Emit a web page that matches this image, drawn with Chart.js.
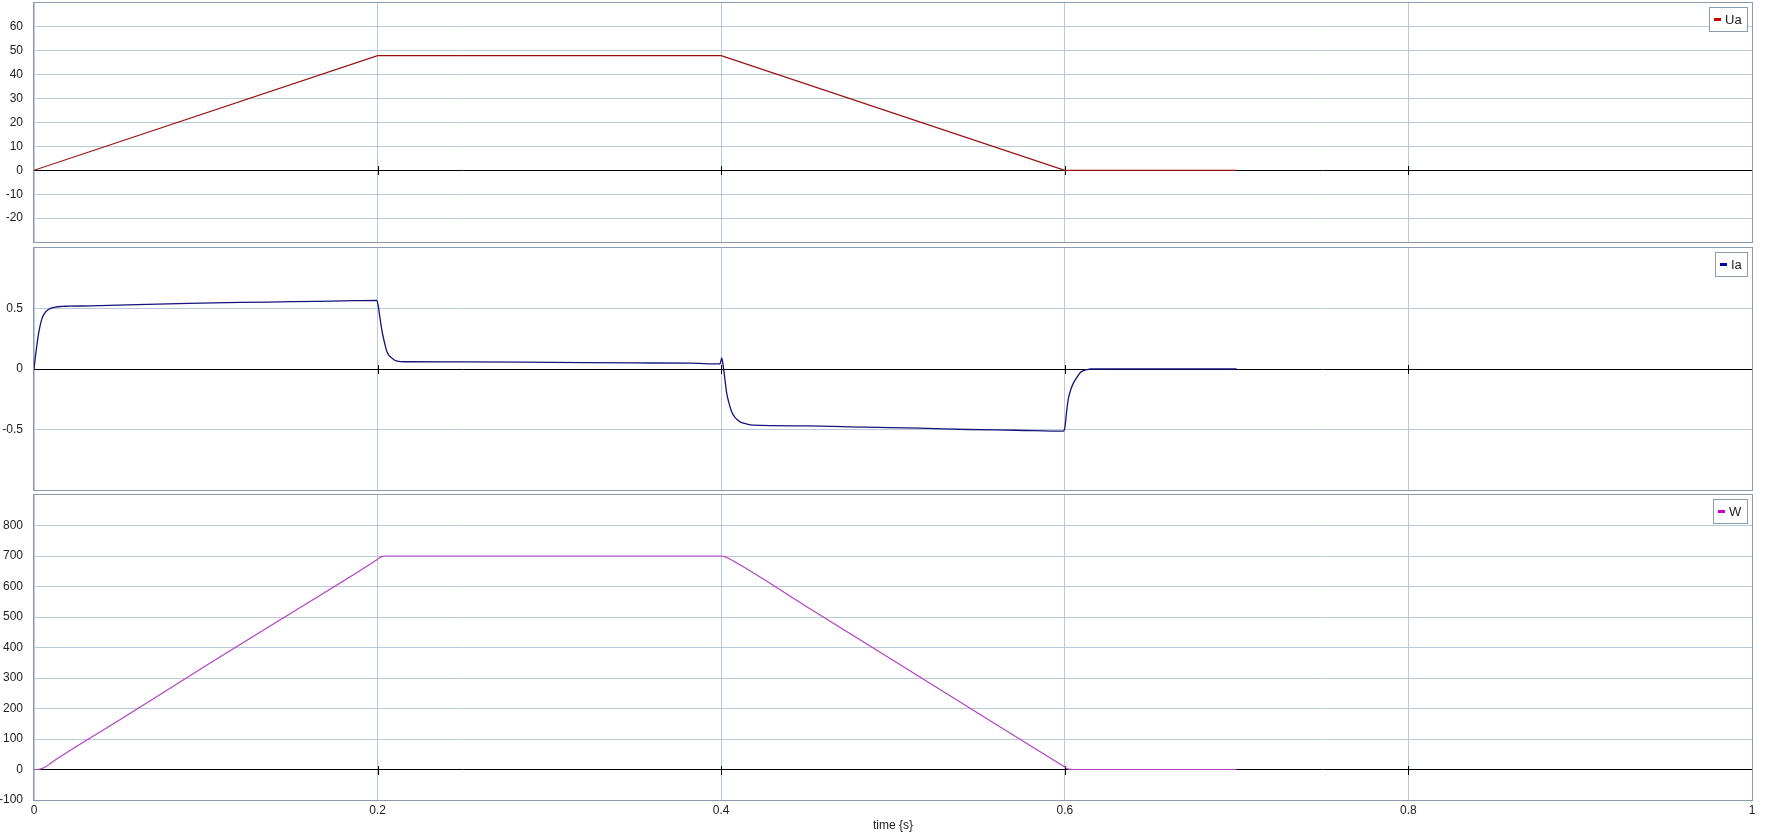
<!DOCTYPE html>
<html>
<head>
<meta charset="utf-8">
<script src="https://cdn.jsdelivr.net/npm/chart.js@4.4.1/dist/chart.umd.min.js"></script>
<style>
  html, body { margin: 0; padding: 0; background: #ffffff; }
  #wrap { position: relative; width: 1766px; height: 838px; background: #ffffff; overflow: hidden; }
  #wrap canvas { position: absolute; left: 0; top: 0; }
</style>
</head>
<body>
<div id="wrap">
  <canvas id="c1" width="1766" height="838"></canvas>
  <canvas id="c2" width="1766" height="838"></canvas>
  <canvas id="c3" width="1766" height="838"></canvas>
</div>
<script>
// ---------------- data ----------------
const timeTicks = [0, 0.2, 0.4, 0.6, 0.8, 1];
const uaTicks = [-20, -10, 0, 10, 20, 30, 40, 50, 60];
const iaTicks = [-0.5, 0, 0.5];
const wTicks = [-100, 0, 100, 200, 300, 400, 500, 600, 700, 800];

const uaTime = [0, 0.2, 0.4, 0.6, 0.7];
const uaValues = [0, 48, 48, 0, 0];

const iaTime = [0, 0.0008, 0.0016, 0.0025, 0.0035, 0.0045, 0.0055, 0.007, 0.0085, 0.010, 0.0125, 0.016, 0.02,
  0.033, 0.06, 0.09, 0.12, 0.15, 0.18, 0.1995,
  0.2004, 0.2014, 0.2024, 0.2035, 0.2045, 0.2053, 0.2065, 0.2082, 0.21, 0.2121, 0.216,
  0.25, 0.3, 0.35, 0.382, 0.3993, 0.4003, 0.4012, 0.4022, 0.4032, 0.4045, 0.4061, 0.408, 0.411, 0.415, 0.4187,
  0.45, 0.4837, 0.5157, 0.5438, 0.572, 0.5991,
  0.6001, 0.601, 0.602, 0.6035, 0.605, 0.607, 0.6088, 0.6105, 0.6127, 0.615, 0.7];
const iaValues = [0, 0.1, 0.188, 0.28, 0.355, 0.41, 0.445, 0.475, 0.492, 0.503, 0.512, 0.517, 0.519,
  0.522, 0.532, 0.542, 0.55, 0.556, 0.563, 0.567,
  0.52, 0.42, 0.328, 0.25, 0.19, 0.147, 0.115, 0.092, 0.072, 0.063, 0.06,
  0.059, 0.055, 0.05, 0.048, 0.042, 0.092, 0.022, -0.09, -0.2, -0.28, -0.353, -0.4, -0.437, -0.455, -0.464,
  -0.47, -0.481, -0.489, -0.5, -0.506, -0.514,
  -0.478, -0.36, -0.25, -0.17, -0.117, -0.07, -0.033, -0.015, -0.006, 0, 0];

const wTime = [0, 0.002, 0.004, 0.007, 0.01, 0.05, 0.1, 0.15, 0.2, 0.202, 0.205, 0.4, 0.402, 0.405,
  0.45, 0.5, 0.55, 0.6, 0.602, 0.605, 0.7];
const wValues = [0, 0, 2, 10, 22, 163, 340, 514, 689, 697, 700, 700, 698, 690,
  533, 358, 183, 8, 1, 0, 0];

// ---------------- styles ----------------
const FONT = '"Liberation Sans", Arial, sans-serif';
const GRID = '#b7cad9';
const FRAME = '#8c9bab';

function pairs(xs, ys) { return xs.map((x, i) => ({ x: x, y: ys[i] })); }

const framePlugin = {
  id: 'frame',
  beforeDatasetsDraw(chart) {
    const a = chart.chartArea, ctx = chart.ctx;
    const xs = chart.scales.x, ys = chart.scales.y;
    ctx.save();
    const y0 = ys.getPixelForValue(0);
    ctx.strokeStyle = '#000';
    ctx.lineWidth = 1;
    ctx.beginPath();
    timeTicks.forEach(v => {
      if (v > 0 && v < 1) {
        const px = Math.round(xs.getPixelForValue(v)) + 0.5;
        ctx.moveTo(px, Math.round(y0) - 4);
        ctx.lineTo(px, Math.round(y0) + 5);
      }
    });
    ctx.stroke();
    ctx.strokeStyle = FRAME;
    ctx.strokeRect(Math.round(a.left) - 0.5, Math.round(a.top) - 0.5,
      Math.round(a.right - a.left) + 1, Math.round(a.bottom - a.top) + 1);
    ctx.restore();
  }
};

const boxLegend = {
  id: 'boxLegend',
  afterDatasetsDraw(chart, args, opts) {
    const ds = chart.data.datasets[0];
    const ctx = chart.ctx, a = chart.chartArea;
    ctx.save();
    ctx.font = '13px ' + FONT;
    const tw = ctx.measureText(ds.label).width;
    const w = Math.round(4.5 + 7 + 4 + tw + 6);
    const h = 24;
    const x = Math.round(a.right - 5.5 - w);
    const y = Math.round(a.top + 4);
    ctx.fillStyle = '#fff';
    ctx.fillRect(x, y, w, h);
    ctx.strokeStyle = FRAME;
    ctx.lineWidth = 1;
    ctx.strokeRect(x + 0.5, y + 0.5, w, h);
    ctx.fillStyle = opts.color;
    ctx.fillRect(x + 5, y + h / 2 - 1, 7, 3);
    ctx.fillStyle = '#222';
    ctx.textBaseline = 'middle';
    ctx.textAlign = 'left';
    ctx.fillText(ds.label, x + 16, y + h / 2 + 1);
    ctx.restore();
  }
};

function makeChart(id, cfg) {
  const isBottom = !!cfg.bottom;
  return new Chart(document.getElementById(id), {
    type: 'line',
    data: {
      datasets: [{
        label: cfg.label,
        data: cfg.data,
        borderColor: cfg.color,
        borderWidth: cfg.width,
        pointRadius: 0,
        fill: false,
        tension: cfg.smooth ? 0.4 : 0,
        cubicInterpolationMode: cfg.smooth ? 'monotone' : 'default'
      }]
    },
    options: {
      responsive: false,
      animation: false,
      devicePixelRatio: 1,
      events: [],
      layout: { padding: cfg.padding },
      plugins: {
        legend: { display: false },
        tooltip: { enabled: false },
        boxLegend: { color: cfg.legendColor }
      },
      scales: {
        x: {
          type: 'linear',
          min: 0, max: 1,
          afterBuildTicks: ax => { ax.ticks = timeTicks.map(v => ({ value: v })); },
          afterFit: ax => { ax.height = isBottom ? 38 : 0; ax.paddingLeft = 0; ax.paddingRight = 0; },
          grid: { color: GRID, lineWidth: 1, drawTicks: false },
          border: { display: false },
          ticks: {
            display: isBottom,
            padding: 3,
            color: '#222',
            font: { family: FONT, size: 12 },
            maxRotation: 0,
            autoSkip: false,
            callback: v => String(v)
          },
          title: {
            display: isBottom,
            text: 'time {s}',
            color: '#222',
            font: { family: FONT, size: 12 },
            padding: { top: 0, bottom: 5 }
          }
        },
        y: {
          type: 'linear',
          min: cfg.min, max: cfg.max,
          afterBuildTicks: ax => { ax.ticks = cfg.ticks.map(v => ({ value: v })); },
          afterFit: ax => { ax.width = 34; ax.paddingTop = 0; ax.paddingBottom = 0; },
          grid: {
            color: c => (c.tick && c.tick.value === 0) ? '#000000' : GRID,
            lineWidth: 1,
            drawTicks: false
          },
          border: { display: false },
          ticks: {
            padding: 11,
            color: '#222',
            font: { family: FONT, size: 12 },
            autoSkip: false,
            callback: v => String(v)
          }
        }
      }
    },
    plugins: [framePlugin, boxLegend]
  });
}

makeChart('c1', {
  label: 'Ua', data: pairs(uaTime, uaValues), color: '#9a1010', legendColor: '#cc0000', width: 1.2,
  min: -30, max: 70, ticks: uaTicks, smooth: false,
  padding: { top: 3, bottom: 596, left: 0, right: 14 }
});
makeChart('c2', {
  label: 'Ia', data: pairs(iaTime, iaValues), color: '#14147a', legendColor: '#0000b0', width: 1.3,
  min: -1, max: 1, ticks: iaTicks, smooth: true,
  padding: { top: 248, bottom: 348, left: 0, right: 14 }
});
makeChart('c3', {
  label: 'W', data: pairs(wTime, wValues), color: '#b440c4', legendColor: '#cc00cc', width: 1.2,
  min: -100, max: 900, ticks: wTicks, smooth: true, bottom: true,
  padding: { top: 495, bottom: 0, left: 0, right: 14 }
});
</script>
</body>
</html>
